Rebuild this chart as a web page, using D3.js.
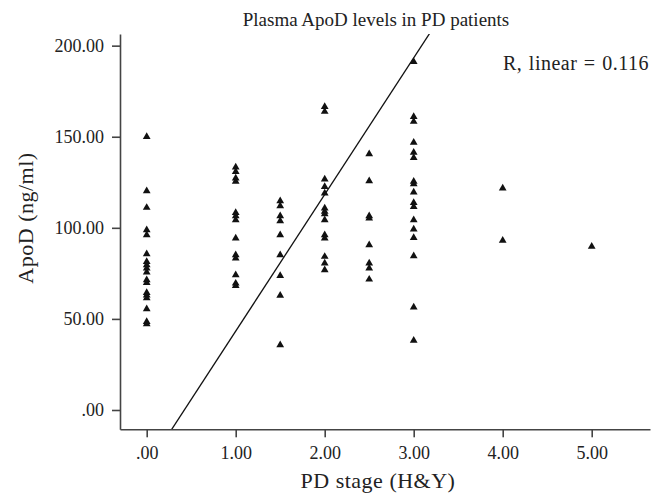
<!DOCTYPE html>
<html>
<head>
<meta charset="utf-8">
<script src="https://cdn.jsdelivr.net/npm/d3@7"></script>
<style>
  html, body { margin: 0; padding: 0; background: #fff; }
  svg { display: block; }
  text { font-family: "Liberation Serif", "Times New Roman", serif; fill: #222; }
</style>
</head>
<body>
<svg id="chart" width="664" height="496"></svg>
<script>
// ---- data ----
const stages = [0, 1, 1.5, 2, 2.5, 3, 4, 5];
const apodStage0   = [150.0, 120.2, 111.1, 98.8, 96.1, 85.6, 81.4, 79.6, 77.8, 75.6, 71.4, 69.9, 64.4, 63.0, 61.5, 55.4, 48.5, 47.2];
const apodStage1   = [133.2, 130.8, 127.2, 125.4, 108.3, 106.5, 104.3, 94.3, 85.1, 83.3, 74.1, 69.5, 68.2];
const apodStage1_5 = [114.7, 112.0, 106.5, 103.8, 96.1, 85.1, 73.7, 62.8, 35.7];
const apodStage2   = [166.5, 163.8, 126.7, 122.6, 119.0, 110.7, 108.9, 107.6, 104.3, 96.1, 94.3, 84.2, 80.5, 76.9];
const apodStage2_5 = [140.5, 125.7, 106.5, 105.2, 90.6, 80.5, 77.8, 71.7];
const apodStage3   = [191.2, 161.0, 158.3, 146.8, 141.3, 138.5, 125.4, 124.1, 119.5, 113.8, 111.6, 104.3, 99.2, 94.6, 84.5, 56.4, 38.1];
const apodStage4   = [121.7, 93.0];
const apodStage5   = [89.7];
const xTicks = [0, 1, 2, 3, 4, 5];
const yTicks = [0, 50, 100, 150, 200];
const fitIntercept = -31.7;   // drawn reference line (as plotted)
const fitSlope = 75.0;
const titleText = "Plasma ApoD levels in PD patients";
const rText = "R, linear = 0.116";
const xLabel = "PD stage (H&Y)";
const yLabel = "ApoD (ng/ml)";

const groups = [apodStage0, apodStage1, apodStage1_5, apodStage2, apodStage2_5, apodStage3, apodStage4, apodStage5];
const points = [];
groups.forEach((arr, i) => arr.forEach(v => points.push({ x: stages[i], y: v })));

// ---- layout ----
const svg = d3.select("#chart");
const plotLeft = 120, plotRight = 650, plotTop = 34, plotBottom = 429.3;

const x = d3.scaleLinear().domain([-0.3, 5.655]).range([plotLeft, plotRight]);
const y = d3.scaleLinear().domain([-10.6, 206.4]).range([plotBottom, plotTop]);

const fmt = d => d === 0 ? ".00" : d3.format(".2f")(d);

// clip for regression line
svg.append("clipPath").attr("id", "plotclip")
  .append("rect").attr("x", plotLeft).attr("y", plotTop).attr("width", plotRight - plotLeft).attr("height", plotBottom - plotTop);

// regression line
const x0 = -0.3, x1 = 5.655;
svg.append("line")
  .attr("clip-path", "url(#plotclip)")
  .attr("x1", x(x0)).attr("y1", y(fitIntercept + fitSlope * x0))
  .attr("x2", x(x1)).attr("y2", y(fitIntercept + fitSlope * x1))
  .attr("stroke", "#111").attr("stroke-width", 1.3);

// points
svg.append("g").selectAll("path").data(points).join("path")
  .attr("d", d3.symbol(d3.symbolTriangle, 26))
  .attr("transform", d => `translate(${x(d.x)},${y(d.y)})`)
  .attr("fill", "#111");

// axes
const xAxis = svg.append("g").attr("transform", `translate(0,${plotBottom})`)
  .call(d3.axisBottom(x).tickValues(xTicks).tickFormat(fmt).tickSizeInner(8).tickSizeOuter(0).tickPadding(9));
const yAxis = svg.append("g").attr("transform", `translate(${plotLeft},0)`)
  .call(d3.axisLeft(y).tickValues(yTicks).tickFormat(fmt).tickSizeInner(8).tickSizeOuter(0).tickPadding(8));

[xAxis, yAxis].forEach(g => {
  g.select(".domain").attr("stroke", "#444").attr("stroke-width", 1.6);
  g.selectAll(".tick line").attr("stroke", "#444").attr("stroke-width", 1.6);
  g.selectAll(".tick text").attr("font-family", "Liberation Serif").attr("font-size", 18).attr("fill", "#222");
});

// texts
svg.append("text").attr("x", 376).attr("y", 26).attr("text-anchor", "middle")
  .attr("font-size", 19).text(titleText);
svg.append("text").attr("x", 503).attr("y", 70).attr("text-anchor", "start")
  .attr("font-size", 20).attr("letter-spacing", 0.5).attr("word-spacing", 1).text(rText);
svg.append("text").attr("x", 378).attr("y", 488).attr("text-anchor", "middle")
  .attr("font-size", 22).attr("letter-spacing", 0.5).text(xLabel);
svg.append("text").attr("transform", "translate(33,218) rotate(-90)").attr("text-anchor", "middle")
  .attr("font-size", 22).attr("letter-spacing", 0.5).text(yLabel);
</script>
</body>
</html>
